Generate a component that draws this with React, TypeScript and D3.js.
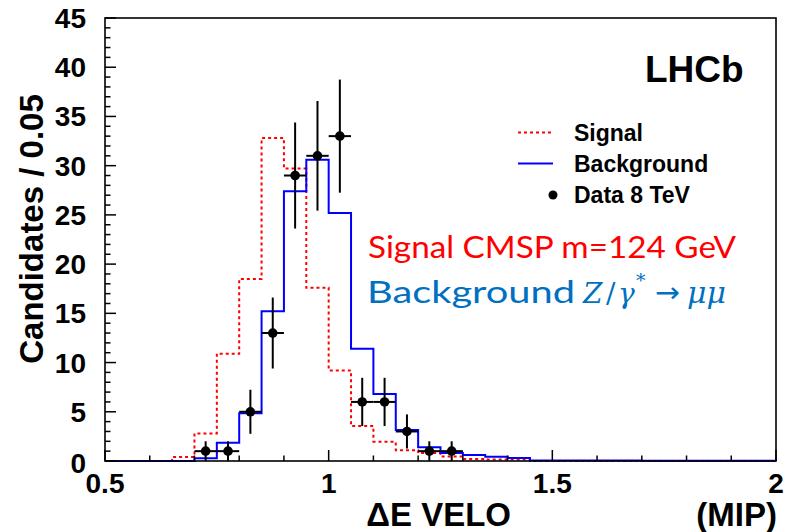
import React from "react";
import * as d3 from "d3";

// ---- data ----
const binStart = 0.5;
const binWidth = 0.05;
// 30 bins from 0.5 to 2.0
const signalValues = [
  0, 0, 0, 0.4, 2.8, 10.9, 18.5, 32.8, 29.7, 17.6,
  9.2, 3.55, 1.96, 1.1, 0.8, 0.45, 0.2, 0.15, 0.15, 0,
  0, 0, 0, 0, 0, 0, 0, 0, 0, 0,
];
const backgroundValues = [
  0, 0, 0, 0, 0.27, 1.86, 4.85, 15.2, 27.4, 30.6,
  25.2, 11.4, 6.8, 3.15, 1.4, 0.8, 0.6, 0.42, 0.3, 0.05,
  0.05, 0.05, 0.04, 0.04, 0.03, 0.03, 0.03, 0.02, 0.02, 0.02,
];
const dataCenters = [0.725, 0.775, 0.825, 0.875, 0.925, 0.975, 1.025, 1.075, 1.125, 1.175, 1.225, 1.275];
const dataCounts = [1, 1, 5, 13, 29, 31, 33, 6, 6, 3, 1, 1];

const yTickValues = [0, 5, 10, 15, 20, 25, 30, 35, 40, 45];
const xTickValues = [0.5, 1, 1.5, 2];
const xTickLabels = ["0.5", "1", "1.5", "2"];

const legendItems = ["Signal", "Background", "Data 8 TeV"];

// ---- layout ----
const W = 786;
const H = 532;
const left = 105, right = 776, top = 18, bottom = 461;
const FONT = "'Liberation Sans', Arial, Helvetica, sans-serif";

export default function App() {
  const x = d3.scaleLinear().domain([0.5, 2]).range([left, right]);
  const y = d3.scaleLinear().domain([0, 45]).range([bottom, top]);

  const histPath = (vals: number[]) => {
    const pts: [number, number][] = [[binStart, 0]];
    vals.forEach((v, i) => pts.push([binStart + i * binWidth, v]));
    pts.push([binStart + vals.length * binWidth, vals[vals.length - 1]]);
    pts.push([binStart + vals.length * binWidth, 0]);
    return d3
      .line<[number, number]>()
      .x((d) => x(d[0]))
      .y((d) => y(d[1]))
      .curve(d3.curveStepAfter)(pts) as string;
  };

  const yMinor = d3.range(0, 46, 1);
  const xMinor = d3.range(0.5, 2.0001, 0.1);

  return (
    <svg
      width={W}
      height={H}
      style={{ position: "absolute", left: 0, top: 0, background: "#fff" }}
    >
      <rect x={0} y={0} width={W} height={H} fill="#fff" />

      {/* histograms */}
      <path
        d={histPath(signalValues)}
        fill="none"
        stroke="#ff0000"
        strokeWidth={2}
        strokeDasharray="3,3"
      />
      <path d={histPath(backgroundValues)} fill="none" stroke="#0000ff" strokeWidth={2} />

      {/* data points */}
      {dataCenters.map((c, i) => {
        const n = dataCounts[i];
        const e = Math.sqrt(n);
        return (
          <g key={i} stroke="#000" strokeWidth={2}>
            <line x1={x(c - binWidth / 2)} x2={x(c + binWidth / 2)} y1={y(n)} y2={y(n)} />
            <line x1={x(c)} x2={x(c)} y1={y(n + e)} y2={y(Math.max(0, n - e))} />
            <circle cx={x(c)} cy={y(n)} r={4.8} fill="#000" stroke="none" />
          </g>
        );
      })}

      {/* frame */}
      <rect
        x={left}
        y={top}
        width={right - left}
        height={bottom - top}
        fill="none"
        stroke="#000"
        strokeWidth={1.6}
      />

      {/* y ticks */}
      {yMinor.map((v) => (
        <line
          key={"ym" + v}
          x1={left}
          x2={left + (v % 5 === 0 ? 11 : 5.5)}
          y1={y(v)}
          y2={y(v)}
          stroke="#000"
          strokeWidth={1.5}
        />
      ))}
      {yTickValues.map((v) => (
        <text
          key={"yl" + v}
          x={86}
          y={y(v) + (v === 0 ? 12 : 10)}
          textAnchor="end"
          fontFamily={FONT}
          fontWeight="bold"
          fontSize={28}
          fill="#000"
        >
          {v}
        </text>
      ))}

      {/* x ticks */}
      {xMinor.map((v, i) => (
        <line
          key={"xm" + i}
          x1={x(v)}
          x2={x(v)}
          y1={bottom}
          y2={bottom - (i % 5 === 0 ? 11 : 5.5)}
          stroke="#000"
          strokeWidth={1.5}
        />
      ))}
      {xTickValues.map((v, i) => (
        <text
          key={"xl" + v}
          x={x(v)}
          y={493}
          textAnchor="middle"
          fontFamily={FONT}
          fontWeight="bold"
          fontSize={28}
          fill="#000"
        >
          {xTickLabels[i]}
        </text>
      ))}

      {/* axis titles */}
      <text
        x={511}
        y={526}
        textAnchor="end"
        fontFamily={FONT}
        fontWeight="bold"
        fontSize={33}
        fill="#000"
      >
        ΔE VELO
      </text>
      <text
        x={777}
        y={526}
        textAnchor="end"
        fontFamily={FONT}
        fontWeight="bold"
        fontSize={33}
        fill="#000"
      >
        (MIP)
      </text>
      <text
        transform={`translate(43,229) rotate(-90)`}
        textAnchor="middle"
        fontFamily={FONT}
        fontWeight="bold"
        fontSize={33}
        fill="#000"
      >
        Candidates / 0.05
      </text>

      {/* LHCb */}
      <text x={645} y={82} fontFamily={FONT} fontWeight="bold" fontSize={37} fill="#000">
        LHCb
      </text>

      {/* legend */}
      <line x1={518} x2={553} y1={132.5} y2={132.5} stroke="#ff0000" strokeWidth={2} strokeDasharray="3,3" />
      <line x1={518} x2={553} y1={163.5} y2={163.5} stroke="#0000ff" strokeWidth={2} />
      <circle cx={553} cy={195} r={4.5} fill="#000" />
      {legendItems.map((t, i) => (
        <text
          key={t}
          x={574}
          y={141 + i * 31.2}
          fontFamily={FONT}
          fontWeight="bold"
          fontSize={23}
          fill="#000"
        >
          {t}
        </text>
      ))}

      {/* annotations */}
      <text
        x={368}
        y={258}
        fontFamily="Lato, 'Open Sans', sans-serif"
        fontSize={30}
        fill="#ff0000"
        textLength={368}
        lengthAdjust="spacingAndGlyphs"
      >
        Signal CMSP m=124 GeV
      </text>
      <g fill="#0070c0">
        <text
          x={367}
          y={303}
          fontFamily="Lato, 'Open Sans', sans-serif"
          fontSize={30}
          textLength={208}
          lengthAdjust="spacingAndGlyphs"
        >
          Background
        </text>
        <text x={583} y={303} fontFamily="'DejaVu Serif', serif" fontStyle="italic" fontSize={28}>
          Z
        </text>
        <text x={606} y={303} fontFamily="'DejaVu Serif', serif" fontSize={28}>
          /
        </text>
        <text x={618} y={303} fontFamily="'DejaVu Serif', serif" fontStyle="italic" fontSize={28}>
          γ
        </text>
        <text x={636} y={287} fontFamily="'DejaVu Serif', serif" fontSize={19}>
          *
        </text>
        <text
          x={655}
          y={302}
          fontFamily="'DejaVu Sans', sans-serif"
          fontSize={28}
          textLength={25}
          lengthAdjust="spacingAndGlyphs"
        >
          →
        </text>
        <text x={687} y={303} fontFamily="'DejaVu Serif', serif" fontStyle="italic" fontSize={30}>
          μμ
        </text>
      </g>
    </svg>
  );
}
